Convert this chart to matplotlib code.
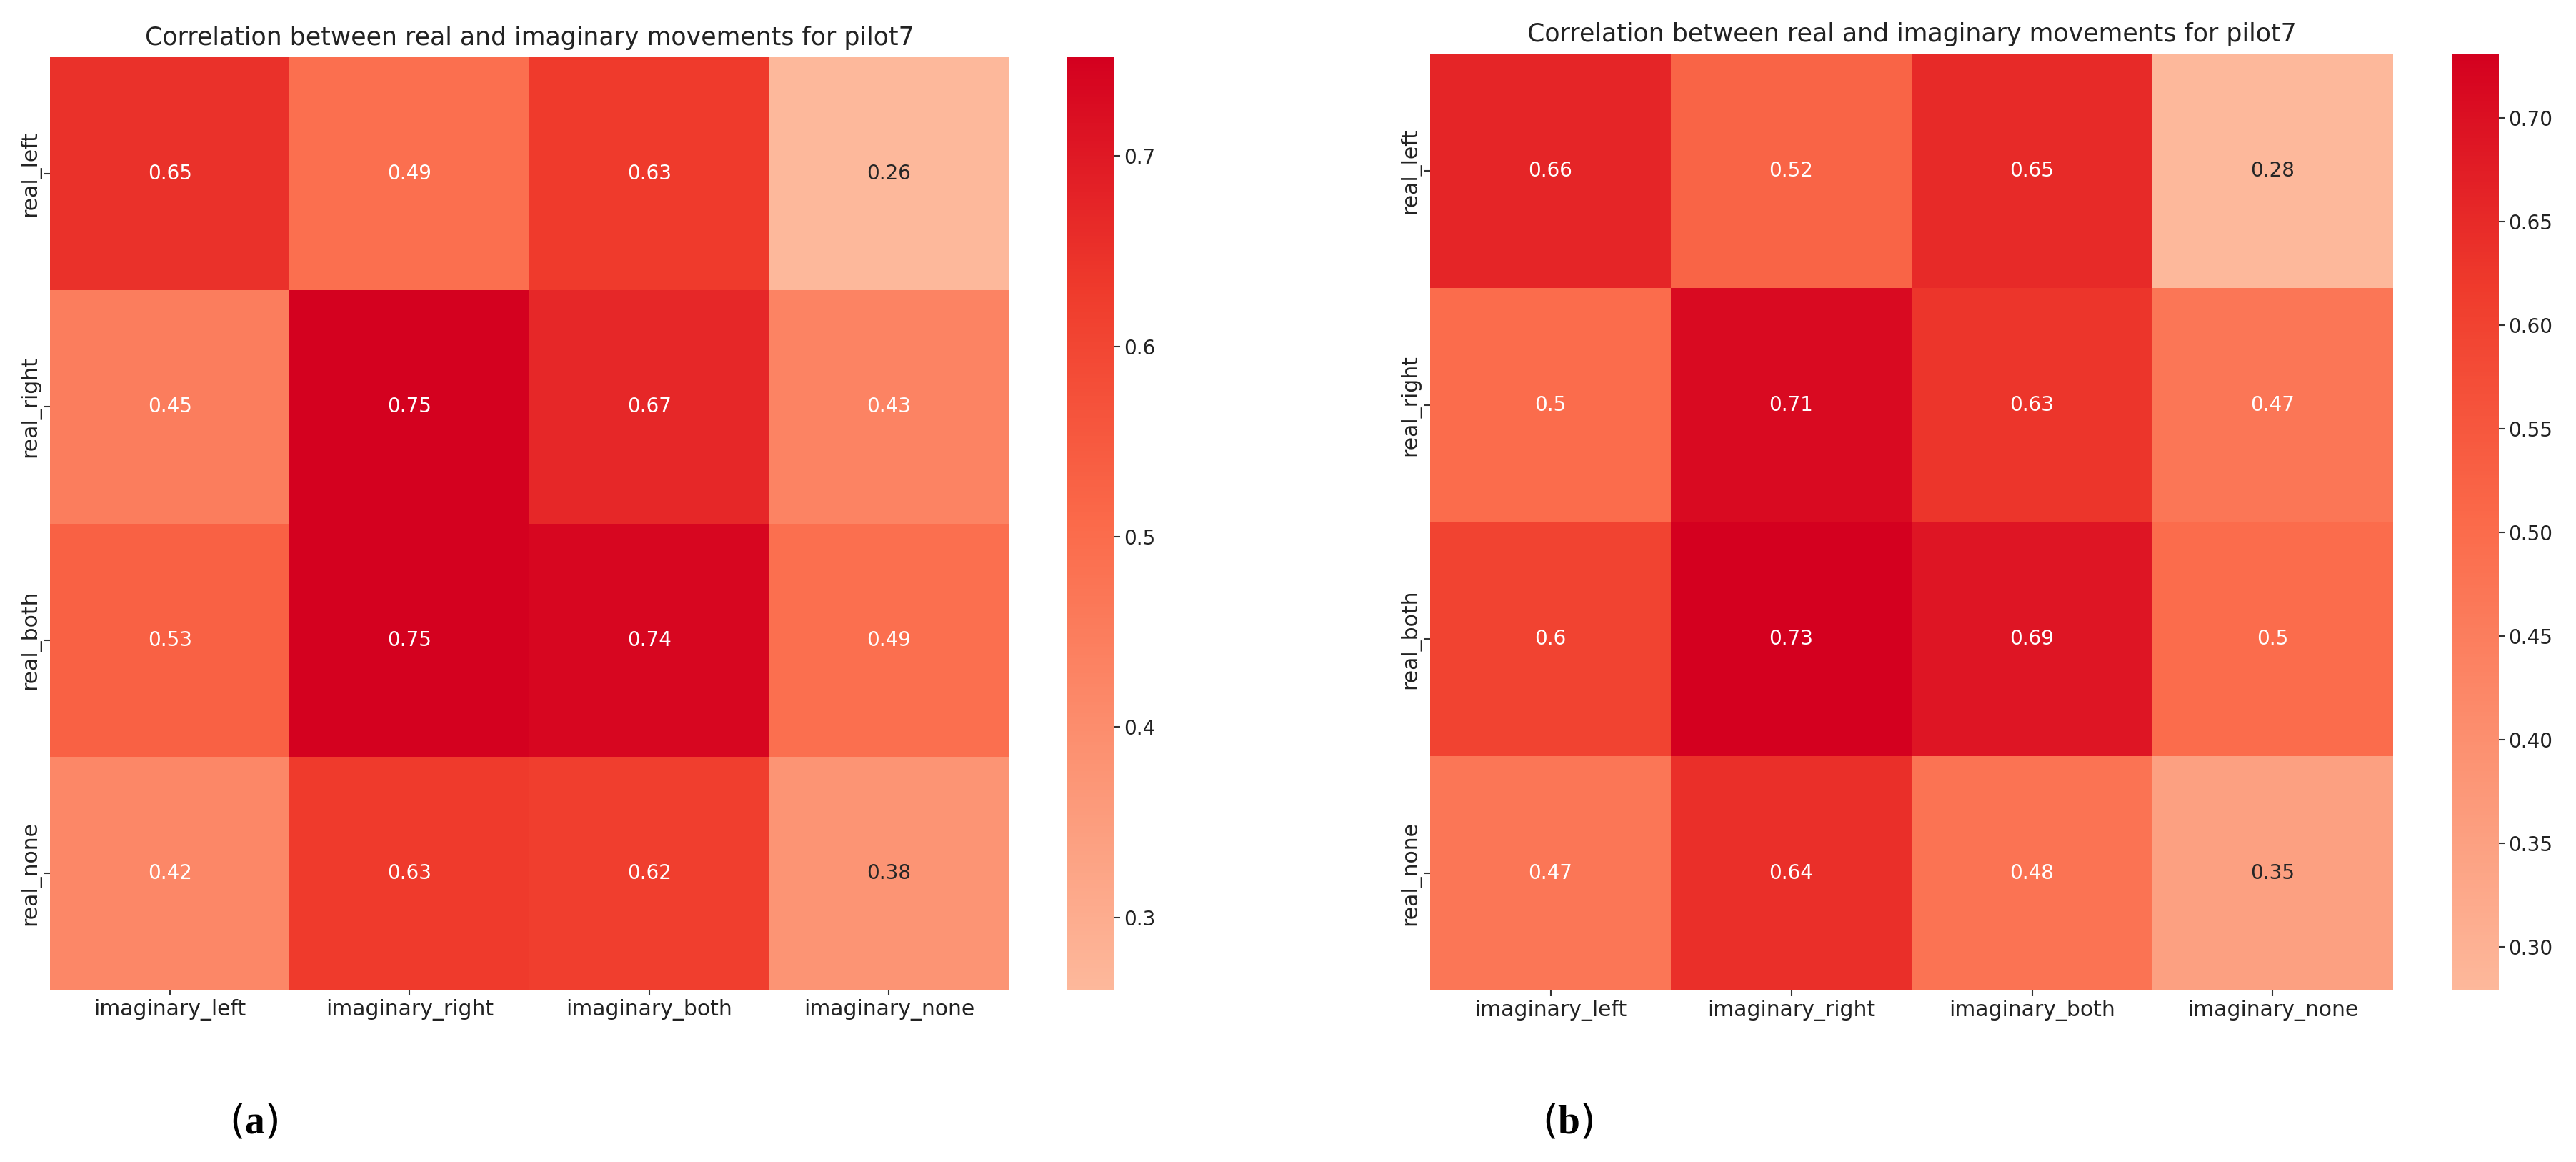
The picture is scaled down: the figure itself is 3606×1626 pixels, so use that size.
import matplotlib
matplotlib.use("Agg")
import matplotlib.pyplot as plt
from matplotlib.colors import LinearSegmentedColormap
import numpy as np
import seaborn as sns

rows = ["real_left", "real_right", "real_both", "real_none"]
cols = ["imaginary_left", "imaginary_right", "imaginary_both", "imaginary_none"]

corr_a = [[0.65, 0.49, 0.63, 0.26],
          [0.45, 0.75, 0.67, 0.43],
          [0.53, 0.75, 0.74, 0.49],
          [0.42, 0.63, 0.62, 0.38]]
corr_b = [[0.66, 0.52, 0.65, 0.28],
          [0.50, 0.71, 0.63, 0.47],
          [0.60, 0.73, 0.69, 0.50],
          [0.47, 0.64, 0.48, 0.35]]

range_a = (0.262, 0.752)
range_b = (0.279, 0.731)
ticks_a = [0.3, 0.4, 0.5, 0.6, 0.7]
ticks_b = [0.30, 0.35, 0.40, 0.45, 0.50, 0.55, 0.60, 0.65, 0.70]

title = "Correlation between real and imaginary movements for pilot7"

cmap = LinearSegmentedColormap.from_list(
    "reds_cut", ["#fdb89b", "#fc9272", "#fb6a4a", "#ef3b2c", "#d4001f"])

plt.rcParams['mathtext.fontset'] = 'custom'
plt.rcParams['mathtext.rm'] = 'Liberation Serif'
plt.rcParams['mathtext.bf'] = 'Liberation Serif:bold'

fig = plt.figure(figsize=(36.06, 16.26), dpi=100)

def panel(data, vr, ticks, fmt_tick, ax_rect, cb_rect):
    ax = fig.add_axes(ax_rect)
    cax = fig.add_axes(cb_rect)
    sns.heatmap(np.array(data), ax=ax, cbar_ax=cax, cmap=cmap, vmin=vr[0], vmax=vr[1],
                annot=True, fmt=".2g", annot_kws={"fontsize": 20},
                xticklabels=cols, yticklabels=rows)
    ax.set_title(title, fontsize=25, color="#222222", pad=12)
    ax.tick_params(axis="both", labelsize=21.5, length=6, width=1.5, colors="#333333",
                   labelcolor="#222222")
    ax.set_xticklabels(cols, rotation=0)
    ax.set_yticklabels(rows, rotation=90, va="center")
    cax.set_yticks(ticks)
    cax.set_yticklabels([fmt_tick.format(t) for t in ticks])
    cax.tick_params(labelsize=20, length=6, width=1.5, colors="#333333", labelcolor="#222222")
    return ax

panel(corr_a, range_a, ticks_a, "{:.1f}",
      [0.0194, 0.1482, 0.3722, 0.8026], [0.4143, 0.1482, 0.0183, 0.8026])
panel(corr_b, range_b, ticks_b, "{:.2f}",
      [0.5552, 0.1476, 0.3738, 0.8063], [0.9517, 0.1476, 0.0183, 0.8063])

fig.text(355 / 3606, 1 - 1570 / 1626, r"($\mathbf{a}$)", fontsize=40, ha="center", va="center")
fig.text(2195 / 3606, 1 - 1570 / 1626, r"($\mathbf{b}$)", fontsize=40, ha="center", va="center")

fig.savefig("out.png", dpi=100, facecolor="white")
